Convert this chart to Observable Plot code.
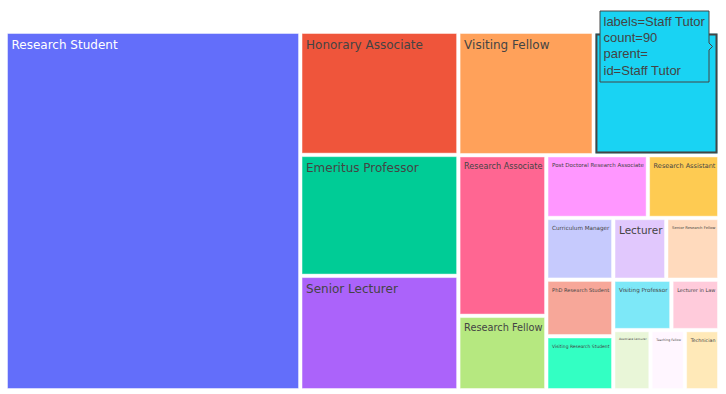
<!DOCTYPE html>
<html>
<head>
<meta charset="utf-8">
<script src="https://cdn.jsdelivr.net/npm/d3@7"></script>
<script src="https://cdn.jsdelivr.net/npm/@observablehq/plot@0.6"></script>
<style>
  html, body { margin: 0; padding: 0; background: white; color: #444; }
  #chart svg { display: block; }
</style>
</head>
<body>
<div id="chart"></div>
<script>
// ---- data ----
const labels = [
  "Research Student", "Honorary Associate", "Emeritus Professor", "Senior Lecturer",
  "Visiting Fellow", "Staff Tutor", "Research Associate", "Research Fellow",
  "Post Doctoral Research Associate", "Research Assistant", "Curriculum Manager",
  "PhD Research Student", "Visiting Research Student", "Lecturer", "Senior Research Fellow",
  "Visiting Professor", "Lecturer in Law", "Associate Lecturer", "Teaching Fellow", "Technician"
];
const counts = [613, 113, 111, 105, 97, 90, 82, 38, 37, 26, 24, 22, 21, 19, 19, 17, 14, 13, 12, 12];
const colors = [
  "#636efa", "#ef553b", "#00cc96", "#ab63fa", "#ffa15a", "#19d3f3", "#ff6692", "#b6e880",
  "#ff97ff", "#fecb52", "#c6cafd", "#f7a799", "#33ffc3", "#e1c8fd", "#ffdabd",
  "#7de8f8", "#ffcbdb", "#e9f6d8", "#fff6ff", "#ffe9b8"
];
const hovered = "Staff Tutor";

// ---- layout ----
const W = 726, H = 394;
const ox = 7.5, oy = 33.5, tw = 710, th = 355;

const root = d3.hierarchy({children: labels.map((l, i) => ({label: l, count: counts[i], color: colors[i]}))})
  .sum(d => d.count || 0)
  .sort((a, b) => b.value - a.value);
d3.treemap().tile(d3.treemapSquarify.ratio(1)).size([tw, th]).paddingInner(3.5)(root);

const ctx = document.createElement("canvas").getContext("2d");
ctx.font = "12px 'DejaVu Sans'";

const tiles = root.leaves().map(n => {
  const w = n.x1 - n.x0, h = n.y1 - n.y0;
  const tw12 = ctx.measureText(n.data.label).width;
  const s = Math.min(1, (w - 6) / tw12, (h - 6) / 14);
  return {
    label: n.data.label, count: n.data.count, color: n.data.color,
    x0: ox + n.x0, x1: ox + n.x1, y0: oy + n.y0, y1: oy + n.y1,
    fs: 12 * s,
    textColor: n.data.label === "Research Student" ? "#ffffff" : "#444444"
  };
});
const hov = tiles.filter(t => t.label === hovered);
const tipData = hov.map(t => ({
  x: t.x1 - 6, y: t.y0 + 12,
  text: `labels=${t.label}\ncount=${t.count}\nparent=\nid=${t.label}`
}));

const chart = Plot.plot({
  width: W, height: H, margin: 0,
  x: {type: "identity", axis: null},
  y: {type: "identity", axis: null},
  style: {fontFamily: "'DejaVu Sans', Verdana, sans-serif", background: "white"},
  marks: [
    Plot.rect(tiles, {
      x1: "x0", x2: "x1", y1: "y0", y2: "y1",
      fill: d => d.color, stroke: "white", strokeWidth: 1, strokeOpacity: 0.45
    }),
    Plot.rect(hov, {
      x1: d => d.x0 + 1, x2: d => d.x1 - 1, y1: d => d.y0 + 1, y2: d => d.y1 - 1,
      fill: "none", stroke: "#444", strokeWidth: 2
    }),
    Plot.text(tiles, {
      x: d => d.x0 + 3.5, y: d => d.y0 + 6,
      text: "label", fontSize: "fs", fill: d => d.textColor,
      textAnchor: "start", lineAnchor: "top",
      fontFamily: "'DejaVu Sans', Verdana, sans-serif"
    }),
    Plot.tip(tipData, {
      x: "x", y: "y", title: "text", anchor: "right",
      fill: "#19d3f3", stroke: "#444", strokeWidth: 1,
      fontSize: 13, fontFamily: "'Liberation Sans', Arial, sans-serif",
      lineHeight: 1.26, textPadding: 3.5, pointerSize: 7, pathFilter: "none"
    })
  ]
});
chart.querySelectorAll('g[aria-label="tip"] text, g[aria-label="tip"] tspan').forEach(t => t.setAttribute("fill", "#444"));
document.getElementById("chart").appendChild(chart);
</script>
</body>
</html>
